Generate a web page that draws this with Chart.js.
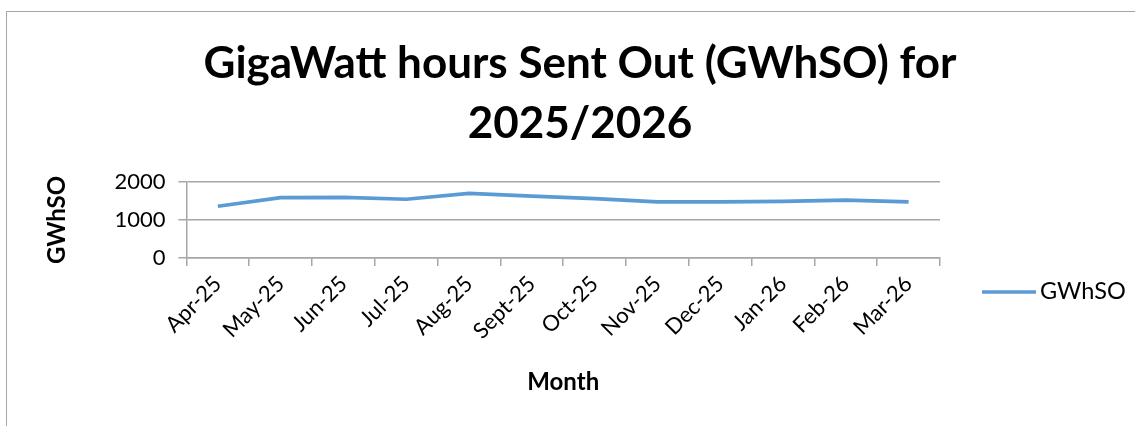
<!DOCTYPE html>
<html>
<head>
<meta charset="utf-8">
<script src="https://cdn.jsdelivr.net/npm/chart.js@4/dist/chart.umd.min.js"></script>
<style>
  html, body { margin: 0; padding: 0; background: #fff; overflow: hidden; }
  #wrap { position: relative; width: 1135px; height: 426px; }
  #frame { position: absolute; left: 6px; top: 11px; width: 1200px; height: 500px; border: 1.5px solid #a6a6a6; box-sizing: border-box; }
  canvas { position: absolute; left: 0; top: 0; }
</style>
</head>
<body>
<div id="wrap">
  <div id="frame"></div>
  <canvas id="c" width="1135" height="426"></canvas>
</div>
<script>
const titleLines = ['GigaWatt hours Sent Out (GWhSO) for', '2025/2026'];
const months = ['Apr-25','May-25','Jun-25','Jul-25','Aug-25','Sept-25','Oct-25','Nov-25','Dec-25','Jan-26','Feb-26','Mar-26'];
const gwhso = [1360, 1590, 1595, 1545, 1700, 1630, 1560, 1475, 1475, 1490, 1520, 1475];
const seriesName = 'GWhSO';
const yAxisTitle = 'GWhSO';
const xAxisTitle = 'Month';

const FONT = 'Lato, Carlito, Calibri, sans-serif';
const gridGray = '#a6a6a6';

const sideLegend = {
  id: 'sideLegend',
  afterDraw(chart) {
    const ctx = chart.ctx;
    const ds = chart.data.datasets[0];
    const x0 = chart.chartArea.right + 42;
    const y = chart.chartArea.bottom + 34;
    ctx.save();
    ctx.strokeStyle = ds.borderColor;
    ctx.lineWidth = 3.5;
    ctx.beginPath();
    ctx.moveTo(x0, y);
    ctx.lineTo(x0 + 54, y);
    ctx.stroke();
    ctx.fillStyle = '#000';
    ctx.font = '23.5px ' + FONT;
    ctx.textBaseline = 'middle';
    ctx.textAlign = 'left';
    ctx.fillText(ds.label, x0 + 58, y);
    ctx.restore();
  }
};

new Chart(document.getElementById('c'), {
  type: 'line',
  data: {
    labels: months,
    datasets: [{
      label: seriesName,
      data: gwhso,
      borderColor: '#5b9bd5',
      backgroundColor: '#5b9bd5',
      borderWidth: 3.7,
      pointRadius: 0,
      tension: 0,
      fill: false
    }]
  },
  options: {
    responsive: false,
    animation: false,
    devicePixelRatio: 1,
    layout: { padding: { left: 25, right: 0, top: 34, bottom: 29 } },
    plugins: {
      legend: { display: false },
      tooltip: { enabled: false },
      title: {
        display: true,
        text: titleLines,
        color: '#000',
        font: { family: FONT, size: 44, weight: 'bold', lineHeight: '60px' },
        padding: { top: 0, bottom: 28 }
      }
    },
    scales: {
      x: {
        offset: true,
        grid: { display: true, drawOnChartArea: false, drawTicks: true, tickLength: 8, color: gridGray, lineWidth: 1.5, offset: true },
        border: { color: gridGray, width: 1.5 },
        ticks: { color: '#000', font: { family: FONT, size: 22 }, maxRotation: 45, minRotation: 45, padding: 5, autoSkip: false },
        title: { display: true, text: xAxisTitle, color: '#000', font: { family: FONT, size: 24, weight: 'bold', lineHeight: 1.2 }, padding: { top: 19, bottom: 0 } }
      },
      y: {
        min: 0, max: 2000,
        ticks: { stepSize: 1000, color: '#000', font: { family: FONT, size: 22 }, padding: 13, format: { useGrouping: false } },
        grid: { color: gridGray, lineWidth: 1.5, tickLength: 8 },
        border: { color: gridGray, width: 1.5 },
        title: { display: true, text: yAxisTitle, color: '#000', font: { family: FONT, size: 24, weight: 'bold', lineHeight: 1.2 }, padding: { top: 17.6, bottom: 30 } }
      },
      legendSpace: {
        type: 'linear',
        position: 'right',
        display: true,
        grid: { display: false, drawTicks: false },
        border: { display: false },
        ticks: { display: false },
        afterFit(scale) { scale.width = 195; }
      }
    }
  },
  plugins: [sideLegend]
});
</script>
</body>
</html>
